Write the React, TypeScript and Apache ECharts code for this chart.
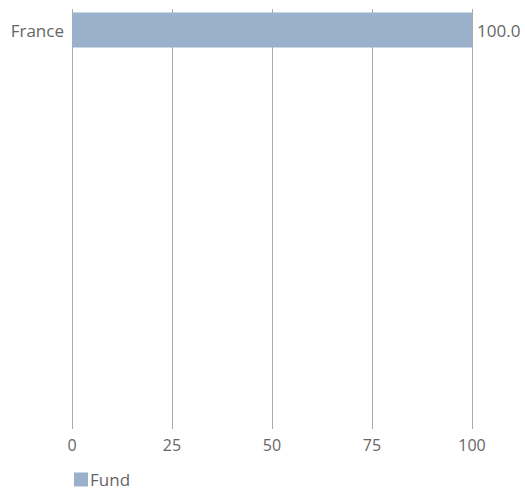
import React, { useEffect, useRef } from "react";
import * as echarts from "echarts";

const categories = ["France", "", "", "", "", "", "", "", "", ""];
const fundValues: (number | null)[] = [100.0, null, null, null, null, null, null, null, null, null];
const seriesName = "Fund";
const xMin = 0;
const xMax = 100;
const xInterval = 25;

export default function App() {
  const ref = useRef<HTMLDivElement>(null);
  useEffect(() => {
    if (!ref.current) return;
    const chart = echarts.init(ref.current, undefined, { renderer: "svg" });
    const font = "'Open Sans', Lato, sans-serif";
    chart.setOption({
      animation: false,
      textStyle: { fontFamily: font },
      grid: { left: 72, right: 53, top: 9, bottom: 62, containLabel: false },
      legend: {
        data: [seriesName],
        left: 74,
        top: 471,
        padding: 0,
        itemWidth: 14,
        itemHeight: 14,
        itemGap: 4,
        icon: "rect",
        textStyle: { color: "#666", fontSize: 17, fontFamily: font, padding: [0, 0, 0, -3] },
      },
      xAxis: {
        type: "value",
        min: xMin,
        max: xMax,
        interval: xInterval,
        axisLine: { show: false },
        axisTick: { show: false },
        splitLine: { show: true, lineStyle: { color: "#aaa", width: 1 } },
        axisLabel: { color: "#666", fontSize: 16, margin: 8, fontFamily: font },
      },
      yAxis: {
        type: "category",
        data: categories,
        inverse: true,
        axisLine: { show: false },
        axisTick: { show: false },
        splitLine: { show: false },
        axisLabel: { color: "#666", fontSize: 17, margin: 8, fontFamily: font },
      },
      series: [
        {
          name: seriesName,
          type: "bar",
          data: fundValues,
          barWidth: 35,
          itemStyle: { color: "#9ab0cb" },
          label: {
            show: true,
            position: "right",
            distance: 5,
            color: "#666",
            fontSize: 17,
            fontFamily: font,
            formatter: (p: any) => (p.value == null ? "" : Number(p.value).toFixed(1)),
          },
        },
      ],
    });
    return () => chart.dispose();
  }, []);
  return (
    <div
      ref={ref}
      style={{ position: "absolute", left: 0, top: 0, width: 525, height: 491 }}
    />
  );
}
